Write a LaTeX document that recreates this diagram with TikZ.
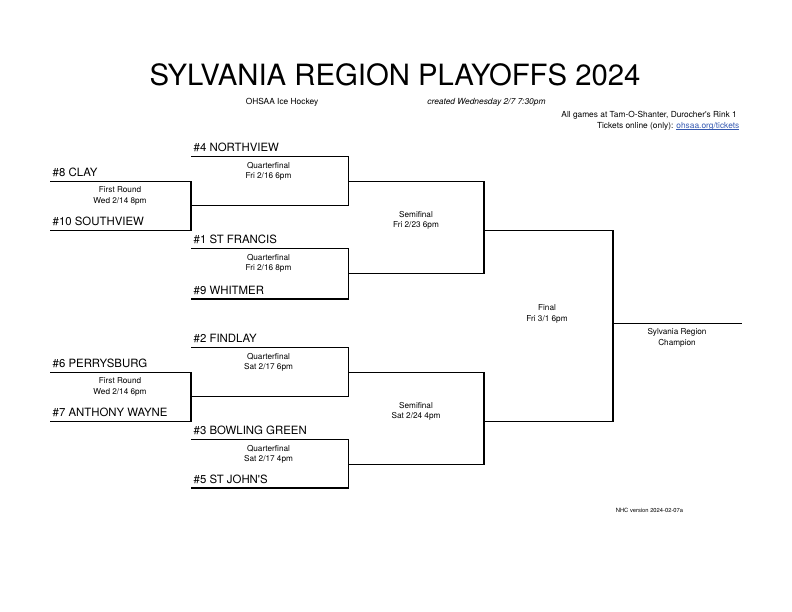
\documentclass[tikz,border=0pt]{standalone}
\usepackage{fontspec}
\setmainfont{TeX Gyre Heros}
\usetikzlibrary{positioning}
\definecolor{linkblue}{RGB}{52,88,176}
\tikzstyle{team} = [anchor=south west, inner xsep=2.5bp, inner ysep=4.4bp, font=\fontsize{11.4bp}{13bp}\selectfont]
\tikzstyle{game} = [align=center, inner sep=0pt, font=\fontsize{8.2bp}{10bp}\selectfont]
\tikzstyle{widegame} = [game, font=\fontsize{8.2bp}{11bp}\selectfont]
\tikzstyle{note} = [inner sep=0pt, font=\fontsize{8.35bp}{10bp}\selectfont]
\tikzstyle{line} = [draw, line width=1.15bp]

\begin{document}
\begin{tikzpicture}[x=1bp, y=-1bp]
    \useasboundingbox (0,0) rectangle (792,612);
    % Place headings
    \node [inner sep=0pt, font=\fontsize{29.3bp}{34bp}\selectfont] (title) at (395,75) {SYLVANIA REGION PLAYOFFS 2024};
    \node [note] (sport) at (282,102) {OHSAA Ice Hockey};
    \node [note, font=\fontsize{8.4bp}{10bp}\itshape] (created) at (486.5,102) {created Wednesday 2/7 7:30pm};
    \node [note, anchor=east] (venue) at (737,115) {All games at Tam-O-Shanter, Durocher\textquotesingle s Rink 1};
    \node [note, anchor=east] (tickets) at (739.5,126) {Tickets online (only): \textcolor{linkblue}{\underline{\smash{ohsaa.org/tickets}}}};
    \node [note, font=\fontsize{5.8bp}{7bp}\selectfont] (version) at (649.5,510) {NHC version 2024-02-07a};
    % Place teams
    \node [team] (northview) at (191,156.7) {\#4 NORTHVIEW};
    \node [team] (clay) at (50,181.6) {\#8 CLAY};
    \node [team] (southview) at (50,230.4) {\#10 SOUTHVIEW};
    \node [team] (francis) at (191,248.6) {\#1 ST FRANCIS};
    \node [team] (whitmer) at (191,299) {\#9 WHITMER};
    \node [team] (findlay) at (191,347.6) {\#2 FINDLAY};
    \node [team] (perrysburg) at (50,372.6) {\#6 PERRYSBURG};
    \node [team] (wayne) at (50,421.4) {\#7 ANTHONY WAYNE};
    \node [team] (bowling) at (191,439.6) {\#3 BOWLING GREEN};
    \node [team] (johns) at (191,488) {\#5 ST JOHN\textquotesingle S};
    % Place joints
    \coordinate (first-a) at (191,205.6);
    \coordinate (first-b) at (191,396.6);
    \coordinate (quarter-a) at (348.5,181.6);
    \coordinate (quarter-b) at (348.5,273.4);
    \coordinate (quarter-c) at (348.5,372.6);
    \coordinate (quarter-d) at (348.5,464.4);
    \coordinate (semi-a) at (484,230.4);
    \coordinate (semi-b) at (484,421.4);
    \coordinate (final) at (613,323.6);
    \coordinate (champion) at (742,323.6);
    % Place game labels
    \node [widegame] (game-1) at (120,196) {First Round\\Wed 2/14 8pm};
    \node [widegame] (game-2) at (120,387) {First Round\\Wed 2/14 6pm};
    \node [game] (game-3) at (268.5,171.5) {Quarterfinal\\Fri 2/16 6pm};
    \node [game] (game-4) at (268.5,263.5) {Quarterfinal\\Fri 2/16 8pm};
    \node [game] (game-5) at (268.5,362.5) {Quarterfinal\\Sat 2/17 6pm};
    \node [game] (game-6) at (268.5,454.5) {Quarterfinal\\Sat 2/17 4pm};
    \node [game] (game-7) at (416,220.5) {Semifinal\\Fri 2/23 6pm};
    \node [game] (game-8) at (416,411.5) {Semifinal\\Sat 2/24 4pm};
    \node [widegame] (game-9) at (547,314) {Final\\Fri 3/1 6pm};
    \node [widegame] (game-10) at (677,338) {Sylvania Region\\Champion};
    % Draw edges
    \path [line] (clay.south west) -| (first-a) |- (southview.south west);
    \path [line] (perrysburg.south west) -| (first-b) |- (wayne.south west);
    \path [line] (northview.south west) -| (quarter-a) |- (first-a);
    \path [line] (francis.south west) -| (quarter-b) |- (whitmer.south west);
    \path [line] (findlay.south west) -| (quarter-c) |- (first-b);
    \path [line] (bowling.south west) -| (quarter-d) |- (johns.south west);
    \path [line] (quarter-a) -| (semi-a) |- (quarter-b);
    \path [line] (quarter-c) -| (semi-b) |- (quarter-d);
    \path [line] (semi-a) -| (final) |- (semi-b);
    \path [line] (final) -- (champion);
\end{tikzpicture}
\end{document}
